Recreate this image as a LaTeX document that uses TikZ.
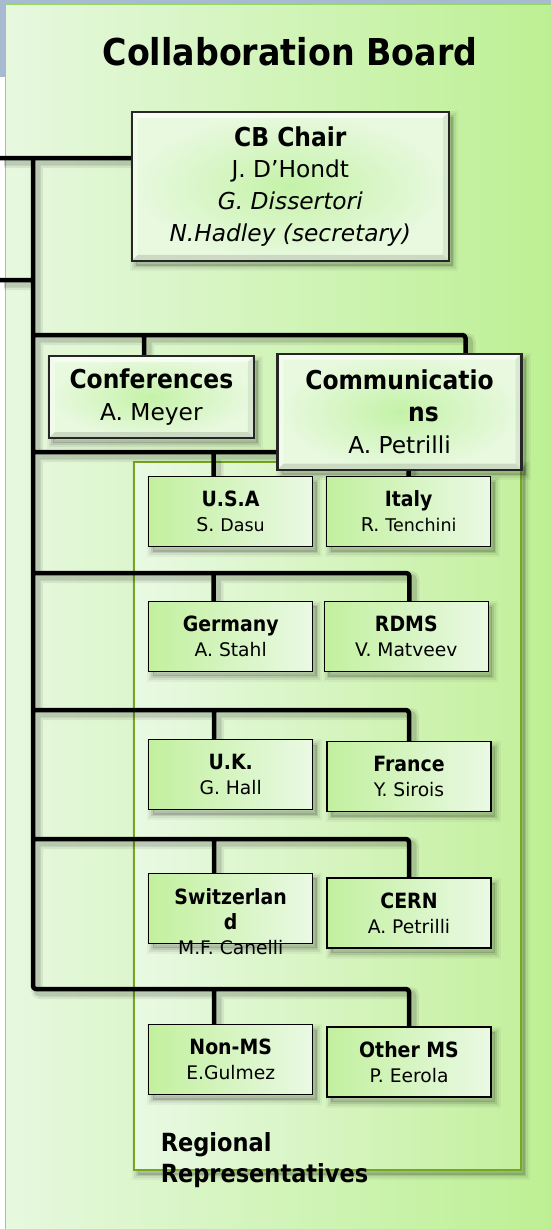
\documentclass[tikz,border=0pt]{standalone}
\usepackage{fontspec}
\setmainfont{DejaVu Sans}[BoldFeatures={FakeStretch=0.9}]
\usetikzlibrary{calc,shadows}

\pgfdeclarelayer{panels}
\pgfdeclarelayer{links}
\pgfsetlayers{panels,links,main}

\definecolor{boardL}{RGB}{231,248,223}
\definecolor{boardR}{RGB}{189,240,148}
\definecolor{boardEdge}{RGB}{150,215,95}
\definecolor{regEdge}{RGB}{118,168,30}
\definecolor{regL}{RGB}{233,249,227}
\definecolor{regR}{RGB}{196,240,158}
\definecolor{cellL}{RGB}{194,240,158}
\definecolor{cellR}{RGB}{234,249,228}
\definecolor{bevIn}{RGB}{196,242,168}
\definecolor{bevOut}{RGB}{233,249,224}
\definecolor{photo}{RGB}{168,185,210}

\newcommand\cbHead{\fontsize{26}{31.7}\selectfont\bfseries}
\newcommand\cbName{\fontsize{23.3}{31.7}\selectfont}
\newcommand\rgHead{\fontsize{21}{25}\selectfont\bfseries}
\newcommand\rgName{\fontsize{18.7}{25}\selectfont}

% raised frame: light top/left bands, darker bottom/right bands
\newcommand\bevelize[1]{%
  \fill[white,opacity=.6] (#1.north west) -- (#1.north east) -- ($(#1.north east)+(-6,6)$) -- ($(#1.north west)+(6,6)$) -- cycle;
  \fill[white,opacity=.35] (#1.north west) -- ($(#1.north west)+(6,6)$) -- ($(#1.south west)+(6,-6)$) -- (#1.south west) -- cycle;
  \fill[black,opacity=.12] (#1.south west) -- ($(#1.south west)+(6,-6)$) -- ($(#1.south east)+(-6,-6)$) -- (#1.south east) -- cycle;
  \fill[black,opacity=.07] (#1.north east) -- (#1.south east) -- ($(#1.south east)+(-6,-6)$) -- ($(#1.north east)+(-6,6)$) -- cycle;
  \draw[black!85,line width=2.4pt] (#1.north west) rectangle (#1.south east);
}

\tikzset{
  softshadow/.style={
    general shadow={fill=black, opacity=.14, shadow xshift=4pt, shadow yshift=-5pt},
    general shadow={draw=black, opacity=.09, line width=3pt, shadow xshift=4pt, shadow yshift=-5pt},
    general shadow={draw=black, opacity=.06, line width=7pt, shadow xshift=4pt, shadow yshift=-5pt},
    general shadow={draw=black, opacity=.04, line width=11pt, shadow xshift=4pt, shadow yshift=-5pt}},
  boardpanel/.style={draw=boardEdge, line width=1.5pt, left color=boardL, right color=boardR, inner sep=0pt, outer sep=0pt},
  regpanel/.style={draw=regEdge, line width=1.6pt, left color=regL, right color=regR, inner sep=0pt, outer sep=0pt, softshadow},
  bevelbox/.style={draw=black!85, line width=2.4pt, inner color=bevIn, outer color=bevOut, outer sep=0pt, inner sep=0pt, align=center, softshadow},
  cell/.style={draw=black, line width=1.1pt, left color=cellL, right color=cellR, outer sep=0pt, inner sep=0pt, align=center,
    minimum width=164pt, minimum height=70pt, font=\rgName, softshadow},
  conn/.style={line width=4.5pt, black, line join=round},
}

\begin{document}
\begin{tikzpicture}[x=1pt,y=-1pt]
\useasboundingbox (0,0) rectangle (551,1229);

% ---- panels ----
\begin{pgfonlayer}{panels}
  \fill[white] (0,0) rectangle (551,1229);
  \fill[photo] (0,0) rectangle (551,4.5);
  \fill[photo] (0,0) rectangle (5.5,77);
  \node[boardpanel, minimum width=546pt, minimum height=1232pt, anchor=north west] (board) at (5.5,4.5) {};
  \node[regpanel, minimum width=387pt, minimum height=708pt] (regpanel) at (327.3,815.9) {};
\end{pgfonlayer}

% ---- titles ----
\node[anchor=base, inner sep=0pt, font=\fontsize{37}{44}\selectfont\bfseries] (title) at (290,65) {Collaboration Board};
\node[anchor=north west, align=left, inner sep=0pt, font=\fontsize{25}{31}\selectfont\bfseries] (reglabel) at (160.6,1132) {Regional\\Representatives};

% ---- board officers ----
\node[bevelbox, minimum width=317pt, minimum height=149pt, font=\cbName] (cb) at (290.3,186.3)
  {{\cbHead CB Chair}\\J. D’Hondt\\\textit{G. Dissertori}\\\textit{N.Hadley (secretary)}};
\bevelize{cb}
\node[bevelbox, minimum width=205pt, minimum height=82pt, font=\cbName] (conf) at (151.4,397)
  {{\cbHead Conferences}\\A. Meyer};
\bevelize{conf}
\node[bevelbox, minimum width=244pt, minimum height=116pt, font=\cbName] (comm) at (399.5,411.7)
  {{\cbHead Communicatio}\\{\cbHead\hspace*{48pt}ns}\\A. Petrilli};
\bevelize{comm}

% ---- regional representatives ----
\node[cell] (usa) at (230.5,511.5) {{\rgHead U.S.A}\\{\fontsize{19}{25}\selectfont S.} {\fontsize{17.5}{25}\selectfont Dasu}};
\node[cell] (italy) at (408.7,511.5) {{\rgHead Italy}\\{\fontsize{19}{25}\selectfont R.} {\fontsize{17.5}{25}\selectfont Tenchini}};
\node[cell] (germany) at (230.7,636.3) {{\rgHead Germany}\\A. Stahl};
\node[cell] (rdms) at (406.3,636.5) {{\rgHead RDMS}\\V. Matveev};
\node[cell] (uk) at (230.7,774.7) {{\rgHead U.K.}\\G. Hall};
\node[cell] (france) at (409,776.7) {{\rgHead France}\\Y. Sirois};
\node[cell] (swiss) at (230.7,908.3) {};
\node[anchor=north, align=center, inner sep=0pt, font=\rgName] (swisstext) at (230.7,888)
  {{\rgHead Switzerlan}\\{\rgHead d}\\M.F. Canelli};
\node[cell] (cern) at (409,913) {{\rgHead CERN}\\A. Petrilli};
\node[cell] (nonms) at (230.7,1059.5) {{\rgHead Non-MS}\\E.Gulmez};
\node[cell] (otherms) at (409,1062) {{\rgHead Other MS}\\P. Eerola};

% ---- connectors ----
\coordinate (inA) at (0,158);
\coordinate (inB) at (0,280);
\coordinate (tTop) at (33,158);
\coordinate (tB) at (33,280);
\coordinate (row0) at (33,335);
\coordinate (row1) at (33,452);
\coordinate (row2) at (33,573);
\coordinate (row3) at (33,710);
\coordinate (row4) at (33,839);
\coordinate (row5) at (33,989);
\coordinate (confdrop) at (144,335);
\coordinate (commdrop) at (465.5,335);
\coordinate (d1) at (213.5,452);
\coordinate (d2) at (213.5,573);
\coordinate (d3) at (214,710);
\coordinate (d4) at (214,839);
\coordinate (d5) at (214,989);

\begin{pgfonlayer}{links}
  \path[save path=\linkpath, rounded corners=3pt]
    (inA) -- (inA -| cb.west)
    (inB) -- (tB)
    (tTop) -- (row5) -| (otherms.north)
    (row0) -- (commdrop) -- (commdrop |- comm.north)
    (confdrop) -- (confdrop |- conf.north)
    (row1) -| (italy.north)
    (d1) -- (d1 |- usa.north)
    (row2) -| ([xshift=3pt]rdms.north)
    (d2) -- (d2 |- germany.north)
    (row3) -| (france.north)
    (d3) -- (d3 |- uk.north)
    (row4) -| (cern.north)
    (d4) -- (d4 |- swiss.north)
    (d5) -- (d5 |- nonms.north);
  \draw[use path=\linkpath, black, opacity=.07, line width=12pt, transform canvas={shift={(4pt,-4pt)}}];
  \draw[use path=\linkpath, black, opacity=.12, line width=7pt, transform canvas={shift={(4pt,-4pt)}}];
  \draw[use path=\linkpath, conn];
\end{pgfonlayer}
\end{tikzpicture}
\end{document}
